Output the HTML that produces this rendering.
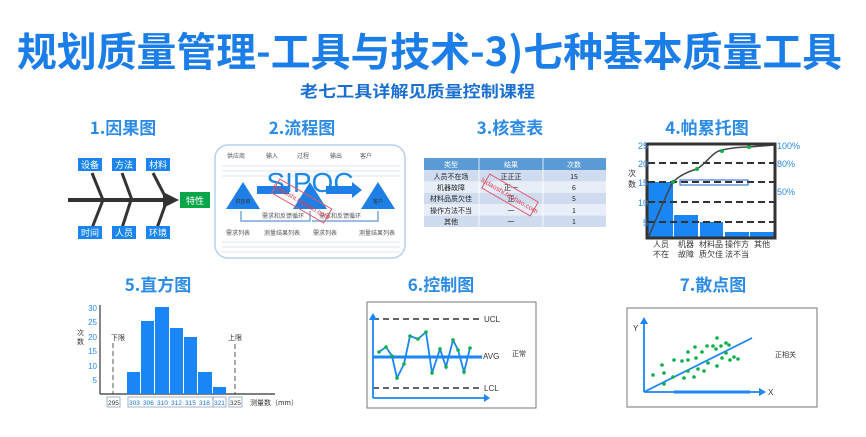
<!DOCTYPE html>
<html><head><meta charset="utf-8"><style>
html,body{margin:0;padding:0;background:#fff;}
svg{display:block;font-family:"Liberation Sans","Noto Sans CJK SC",sans-serif;}
.cj{font-family:"Noto Sans CJK SC","WenQuanYi Zen Hei",sans-serif;}
</style></head><body>
<svg width="866" height="437" viewBox="0 0 866 437" xmlns="http://www.w3.org/2000/svg">
<rect width="866" height="437" fill="#fff"/>
<!-- Titles -->
<text x="17" y="66" font-size="40" font-weight="bold" fill="#1b7de8" class="cj" textLength="825" lengthAdjust="spacingAndGlyphs">规划质量管理-工具与技术-3)七种基本质量工具</text>
<text x="300" y="97" font-size="16" font-weight="bold" fill="#1a6fd0" class="cj" textLength="235" lengthAdjust="spacingAndGlyphs">老七工具详解见质量控制课程</text>
<g font-size="17" font-weight="bold" fill="#2b8be6" class="cj" text-anchor="middle">
<text x="123" y="134">1.因果图</text>
<text x="302" y="134">2.流程图</text>
<text x="510" y="134">3.核查表</text>
<text x="707" y="134">4.帕累托图</text>
<text x="158" y="291">5.直方图</text>
<text x="441" y="291">6.控制图</text>
<text x="713" y="291">7.散点图</text>
</g>

<!-- 1 Fishbone -->
<g stroke="#333" stroke-width="3" fill="none">
<line x1="68" y1="200" x2="166" y2="200" stroke-width="4"/>
<line x1="92" y1="173" x2="103" y2="200"/>
<line x1="122" y1="173" x2="132" y2="200"/>
<line x1="153" y1="173" x2="167" y2="200"/>
<line x1="103" y1="200" x2="92" y2="228"/>
<line x1="131" y1="200" x2="122" y2="228"/>
<line x1="167" y1="200" x2="157" y2="228"/>
</g>
<polygon points="163,192 179,200 163,208" fill="#333"/>
<g fill="#1a85f0">
<rect x="78" y="158" width="24" height="13"/><rect x="112" y="158" width="24" height="13"/><rect x="146" y="158" width="24" height="13"/>
<rect x="78" y="226" width="24" height="13"/><rect x="112" y="226" width="24" height="13"/><rect x="146" y="226" width="24" height="13"/>
</g>
<rect x="180" y="192" width="30" height="16" fill="#0aa64a"/>
<g font-size="9" fill="#fff" class="cj" text-anchor="middle">
<text x="90" y="168">设备</text><text x="124" y="168">方法</text><text x="158" y="168">材料</text>
<text x="90" y="236">时间</text><text x="124" y="236">人员</text><text x="158" y="236">环境</text>
<text x="195" y="204">特性</text>
</g>

<!-- 2 SIPOC -->
<rect x="215" y="145" width="190" height="113" rx="13" fill="#fff" stroke="#b6d0f0" stroke-width="1.5"/>
<g font-size="6" fill="#555" class="cj" text-anchor="middle">
<text x="236" y="158">供应商</text><text x="272" y="158">输入</text><text x="303" y="158">过程</text><text x="336" y="158">输出</text><text x="366" y="158">客户</text>
<text x="238" y="235">需求列表</text><text x="282" y="235">测量结果列表</text><text x="325" y="235">需求列表</text><text x="377" y="235">测量结果列表</text>
<text x="283" y="218">需求和反馈循环</text><text x="340" y="218">需求和反馈循环</text>
</g>
<g stroke="#dde6f2" stroke-width="1">
<line x1="222" y1="166" x2="400" y2="166"/><line x1="222" y1="171" x2="400" y2="171"/><line x1="222" y1="176" x2="400" y2="176"/>
<line x1="222" y1="242" x2="400" y2="242"/><line x1="222" y1="247" x2="400" y2="247"/><line x1="222" y1="252" x2="400" y2="252"/>
</g>
<text x="310" y="192" font-size="28" fill="#1e88e5" text-anchor="middle">SIPOC</text>
<g fill="#1e7fe6">
<polygon points="243,182 226,209 260,209"/>
<polygon points="310,182 293,209 327,209"/>
<polygon points="378,182 361,209 395,209"/>
<rect x="257" y="186" width="32" height="8"/><rect x="326" y="186" width="28" height="8"/>
<polygon points="352,182 362,190 352,198"/>
</g>
<g stroke="#7aa8dd" stroke-width="1.5" fill="none">
<polyline points="241,211 241,221 310,221 310,211"/><polyline points="312,221 378,221 378,211"/>
</g>
<g font-size="5" fill="#333" class="cj" text-anchor="middle"><text x="243" y="203">供应商</text><text x="378" y="203">客户</text></g>
<g transform="rotate(30 300 200)"><rect x="272" y="192" width="60" height="16" fill="none" stroke="#e05b6a" stroke-width="1"/><text x="302" y="203" font-size="7" fill="#e0404f" text-anchor="middle">ludaoshi.taobao.com</text></g>

<!-- 3 check table -->
<rect x="424" y="158" width="182" height="12" fill="#5b9bd5"/>
<rect x="424" y="170" width="182" height="11.4" fill="#cfdcef"/>
<rect x="424" y="181.4" width="182" height="11.4" fill="#e8eef8"/>
<rect x="424" y="192.8" width="182" height="11.4" fill="#cfdcef"/>
<rect x="424" y="204.2" width="182" height="11.4" fill="#e8eef8"/>
<rect x="424" y="215.6" width="182" height="11.4" fill="#cfdcef"/>
<g stroke="#fff" stroke-width="0.8"><line x1="479" y1="158" x2="479" y2="227"/><line x1="543" y1="158" x2="543" y2="227"/></g>
<g font-size="7" class="cj" text-anchor="middle">
<g fill="#fff"><text x="451" y="167">类型</text><text x="511" y="167">结果</text><text x="574" y="167">次数</text></g>
<g fill="#222">
<text x="451" y="179">人员不在场</text><text x="511" y="179">正正正</text><text x="574" y="179">15</text>
<text x="451" y="190">机器故障</text><text x="511" y="190">正一</text><text x="574" y="190">6</text>
<text x="451" y="201">材料品质欠佳</text><text x="511" y="201">正</text><text x="574" y="201">5</text>
<text x="451" y="213">操作方法不当</text><text x="511" y="213">一</text><text x="574" y="213">1</text>
<text x="451" y="224">其他</text><text x="511" y="224">一</text><text x="574" y="224">1</text>
</g></g>
<g transform="rotate(30 510 195)"><rect x="482" y="187" width="56" height="16" fill="none" stroke="#e05b6a" stroke-width="1"/><text x="510" y="198" font-size="7" fill="#e0404f" text-anchor="middle">ludaoshi.taobao.com</text></g>

<!-- 4 Pareto -->
<g fill="#1a85f5">
<rect x="648" y="182" width="25" height="55"/><rect x="674" y="215" width="24" height="22"/><rect x="700" y="222" width="23" height="15"/><rect x="725" y="232" width="24" height="5"/><rect x="750" y="232" width="24" height="5"/>
</g>
<g stroke="#333" stroke-width="2" stroke-dasharray="7,4"><line x1="648" y1="163" x2="774" y2="163"/><line x1="648" y1="182" x2="774" y2="182"/><line x1="648" y1="202" x2="774" y2="202"/><line x1="648" y1="222" x2="774" y2="222"/></g>
<rect x="680" y="180" width="68" height="5" fill="none" stroke="#1a5fd0" stroke-width="1"/>
<path d="M649,236 C660,210 668,190 673,182 C680,175 690,171 697,169 C708,162 712,152 722,150 C735,147 745,147 749,147 L774,145" fill="none" stroke="#444" stroke-width="1.5"/>
<g fill="#0bb04a"><circle cx="673" cy="182" r="2"/><circle cx="697" cy="169" r="2"/><circle cx="722" cy="151" r="2"/><circle cx="749" cy="147" r="2"/></g>
<rect x="647" y="144" width="128" height="94" fill="none" stroke="#333" stroke-width="3"/>
<g font-size="9" fill="#2b8be6" text-anchor="end"><text x="648" y="149">25</text><text x="648" y="167">20</text><text x="648" y="186">15</text><text x="648" y="206">10</text><text x="648" y="226">5</text></g>
<g font-size="9" fill="#2b8be6"><text x="777" y="149">100%</text><text x="777" y="167">80%</text><text x="777" y="195">50%</text></g>
<g font-size="8" fill="#333" class="cj"><text x="628" y="176">次</text><text x="628" y="187">数</text></g>
<g font-size="8" fill="#333" class="cj" text-anchor="middle">
<text x="661" y="247">人员</text><text x="661" y="257">不在</text>
<text x="686" y="247">机器</text><text x="686" y="257">故障</text>
<text x="711" y="247">材料品</text><text x="711" y="257">质欠佳</text>
<text x="737" y="247">操作方</text><text x="737" y="257">法不当</text>
<text x="762" y="247">其他</text>
</g>

<!-- 5 Histogram -->
<line x1="100" y1="305" x2="100" y2="394" stroke="#333" stroke-width="1.2"/>
<line x1="100" y1="394" x2="275" y2="394" stroke="#333" stroke-width="1.2"/>
<g fill="#1a85f5">
<rect x="127" y="372" width="13" height="22"/><rect x="141" y="321" width="13" height="73"/><rect x="155" y="307" width="14" height="87"/><rect x="170" y="328" width="13" height="66"/><rect x="184" y="337" width="13" height="57"/><rect x="198" y="372" width="14" height="22"/><rect x="213" y="387" width="13" height="7"/>
</g>
<g font-size="8" fill="#2b8be6" text-anchor="end"><text x="97" y="311">30</text><text x="97" y="325">25</text><text x="97" y="340">20</text><text x="97" y="354">15</text><text x="97" y="369">10</text><text x="97" y="383">5</text></g>
<g stroke="#555" stroke-dasharray="5,3" stroke-width="1"><line x1="113" y1="343" x2="113" y2="394"/><line x1="235" y1="344" x2="235" y2="394"/></g>
<g font-size="7" fill="#333" class="cj"><text x="111" y="340">下限</text><text x="228" y="340">上限</text><text x="77" y="335">次</text><text x="77" y="344">数</text><text x="250" y="405">测量数（mm）</text></g>
<g fill="none" stroke="#8aa0c0" stroke-width="0.8"><rect x="107" y="397" width="13" height="10"/><rect x="128" y="397" width="85" height="10"/><rect x="213" y="397" width="13" height="10"/><rect x="229" y="397" width="13" height="10"/></g>
<g font-size="6.5" fill="#1a6fd0"><text x="108" y="405" fill="#333">295</text><text x="129" y="405">303</text><text x="143" y="405">306</text><text x="157" y="405">310</text><text x="171" y="405">312</text><text x="185" y="405">315</text><text x="199" y="405">318</text><text x="214" y="405">321</text><text x="230" y="405" fill="#333">325</text></g>

<!-- 6 Control chart -->
<rect x="367" y="302" width="169" height="106" fill="#fff" stroke="#777" stroke-width="1"/>
<g stroke="#333" stroke-width="1.5" stroke-dasharray="6,4"><line x1="373" y1="319" x2="482" y2="319"/><line x1="373" y1="388" x2="482" y2="388"/></g>
<line x1="373" y1="357" x2="482" y2="357" stroke="#1a85f5" stroke-width="3"/>
<g stroke="#1a85f5" stroke-width="1.8" fill="#1a85f5"><line x1="373" y1="398" x2="373" y2="318"/><line x1="373" y1="398" x2="486" y2="398"/></g>
<polygon points="369,320 373,313 377,320" fill="#1a85f5"/><polygon points="484,394 490,398 484,402" fill="#1a85f5"/>
<polyline points="379,352 386,347 392,356 397,378 404,364 410,336 418,339 426,332 432,373 440,349 446,367 453,340 458,350 464,372 470,348" fill="none" stroke="#1a85f5" stroke-width="1.8"/>
<g fill="#0bb04a"><circle cx="379" cy="352" r="1.8"/><circle cx="386" cy="347" r="1.8"/><circle cx="392" cy="356" r="1.8"/><circle cx="397" cy="378" r="1.8"/><circle cx="404" cy="364" r="1.8"/><circle cx="410" cy="336" r="1.8"/><circle cx="418" cy="339" r="1.8"/><circle cx="426" cy="332" r="1.8"/><circle cx="432" cy="373" r="1.8"/><circle cx="440" cy="349" r="1.8"/><circle cx="446" cy="367" r="1.8"/><circle cx="453" cy="340" r="1.8"/><circle cx="458" cy="350" r="1.8"/><circle cx="464" cy="372" r="1.8"/><circle cx="470" cy="348" r="1.8"/></g>
<g font-size="8" fill="#333"><text x="484" y="322">UCL</text><text x="483" y="359">AVG</text><text x="484" y="391">LCL</text></g>
<text x="512" y="356" font-size="7" fill="#333" class="cj">正常</text>

<!-- 7 Scatter -->
<rect x="627" y="308" width="190" height="99" fill="#fff" stroke="#777" stroke-width="1"/>
<g stroke="#1a85f5" stroke-width="1.8"><line x1="644" y1="392" x2="644" y2="322"/><line x1="644" y1="392" x2="760" y2="392"/><line x1="644" y1="392" x2="752" y2="338"/></g>
<line x1="674" y1="392" x2="750" y2="392" stroke="#1a85f5" stroke-width="3"/>
<polygon points="640,324 644,317 648,324" fill="#1a85f5"/><polygon points="759,388 766,392 759,396" fill="#1a85f5"/>
<g font-size="8" fill="#333"><text x="633" y="331">Y</text><text x="768" y="395">X</text></g>
<text x="775" y="357" font-size="7" fill="#333" class="cj">正相关</text>
<g fill="#0bb04a">
<circle cx="653" cy="375" r="1.8"/><circle cx="662" cy="365" r="1.8"/><circle cx="664" cy="373" r="1.8"/><circle cx="664" cy="384" r="1.8"/><circle cx="674" cy="360" r="1.8"/><circle cx="673" cy="377" r="1.8"/><circle cx="682" cy="361" r="1.8"/><circle cx="684" cy="378" r="1.8"/><circle cx="688" cy="352" r="1.8"/><circle cx="688" cy="360" r="1.8"/><circle cx="688" cy="371" r="1.8"/><circle cx="695" cy="347" r="1.8"/><circle cx="696" cy="358" r="1.8"/><circle cx="694" cy="377" r="1.8"/><circle cx="698" cy="369" r="1.8"/><circle cx="702" cy="352" r="1.8"/><circle cx="704" cy="371" r="1.8"/><circle cx="707" cy="346" r="1.8"/><circle cx="708" cy="363" r="1.8"/><circle cx="713" cy="346" r="1.8"/><circle cx="716" cy="349" r="1.8"/><circle cx="717" cy="338" r="1.8"/><circle cx="717" cy="366" r="1.8"/><circle cx="721" cy="346" r="1.8"/><circle cx="722" cy="358" r="1.8"/><circle cx="726" cy="343" r="1.8"/><circle cx="726" cy="353" r="1.8"/><circle cx="729" cy="345" r="1.8"/><circle cx="730" cy="360" r="1.8"/><circle cx="734" cy="357" r="1.8"/><circle cx="738" cy="359" r="1.8"/>
</g>
</svg>
</body></html>
